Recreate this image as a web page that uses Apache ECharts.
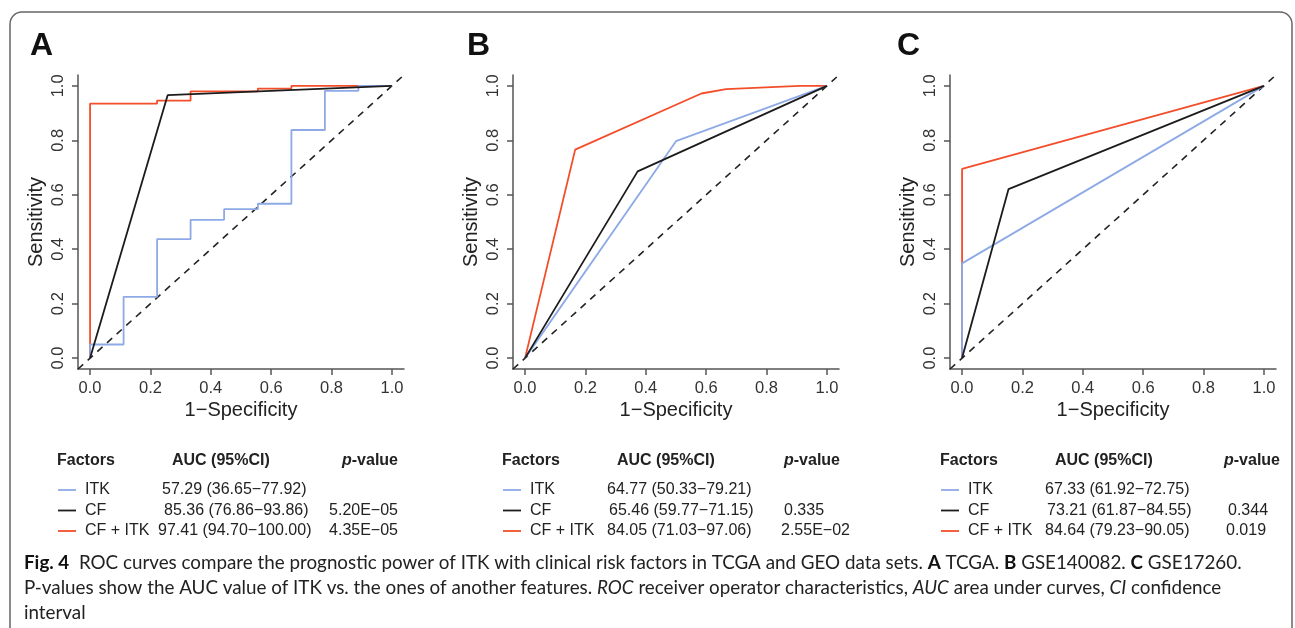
<!DOCTYPE html>
<html>
<head>
<meta charset="utf-8">
<script src="https://cdn.jsdelivr.net/npm/echarts@6/dist/echarts.min.js"></script>
<style>
  html, body { margin: 0; padding: 0; background: #fff; }
  #main { width: 1295px; height: 628px; }
</style>
</head>
<body>
<div id="main"></div>
<script>
// tick values shared by both axes of every panel
const ticks = [0, 0.2, 0.4, 0.6, 0.8, 1.0];
const letters = ['A', 'B', 'C'];
const factors = ['ITK', 'CF', 'CF + ITK'];

// ROC points [1-specificity, sensitivity]
const itkA = [[0, 0], [0, 0.05], [0.111, 0.05], [0.111, 0.225], [0.222, 0.225], [0.222, 0.437], [0.333, 0.437],
  [0.333, 0.508], [0.444, 0.508], [0.444, 0.547], [0.556, 0.547], [0.556, 0.567], [0.667, 0.567], [0.667, 0.838],
  [0.778, 0.838], [0.778, 0.982], [0.889, 0.982], [0.889, 1.0], [1, 1]];
const cfA = [[0, 0], [0.257, 0.966], [1, 1]];
const cfitkA = [[0, 0], [0, 0.935], [0.222, 0.935], [0.222, 0.946], [0.333, 0.946], [0.333, 0.98], [0.556, 0.98],
  [0.556, 0.99], [0.667, 0.99], [0.667, 1.0], [1, 1]];

const itkB = [[0, 0], [0.5, 0.797], [1, 1]];
const cfB = [[0, 0], [0.373, 0.686], [1, 1]];
const cfitkB = [[0, 0], [0.166, 0.766], [0.584, 0.972], [0.666, 0.988], [0.91, 1.0], [1, 1]];

const itkC = [[0, 0], [0, 0.348], [1, 1]];
const cfC = [[0, 0], [0.154, 0.621], [1, 1]];
const cfitkC = [[0, 0], [0, 0.695], [1, 1]];

// table texts
const aucA = ['57.29 (36.65\u221277.92)', '85.36 (76.86\u221293.86)', '97.41 (94.70\u2212100.00)'];
const pA = ['', '5.20E\u221205', '4.35E\u221205'];
const aucB = ['64.77 (50.33\u221279.21)', '65.46 (59.77\u221271.15)', '84.05 (71.03\u221297.06)'];
const pB = ['', '0.335', '2.55E\u221202'];
const aucC = ['67.33 (61.92\u221272.75)', '73.21 (61.87\u221284.55)', '84.64 (79.23\u221290.05)'];
const pC = ['', '0.344', '0.019'];

const colors = ['#8eaae6', '#1c1c1c', '#f24e2a'];
const curves = [[itkA, cfA, cfitkA], [itkB, cfB, cfitkB], [itkC, cfC, cfitkC]];
const tables = [[aucA, pA], [aucB, pB], [aucC, pC]];

const FONT = '"Liberation Sans", Arial, sans-serif';
const CAP = 'Lato, "Open Sans", sans-serif';

const gridLeft = [78, 513, 950];
const tableLeft = [0, 445, 883];
const letterX = [42, 479, 909];
// column positions of the tables
const aucX = [[162, 164, 158], [607, 609, 607], [1045, 1047, 1045]];
const pHeadX = [[398, 'right'], [784, 'left'], [1224, 'left']];
const pValX = [[null, [398, 'right'], [398, 'right']], [null, [784, 'left'], [781, 'left']],
  [null, [1228, 'left'], [1226, 'left']]];

const grids = [], xAxes = [], yAxes = [], series = [], graphics = [];

gridLeft.forEach(function (left, i) {
  grids.push({ left: left, top: 75, width: 326, height: 294 });
  const common = {
    gridIndex: i, type: 'value', min: -0.04, max: 1.04,
    axisLine: { show: true, onZero: false, lineStyle: { color: '#555', width: 1.5 } },
    axisTick: { show: true, customValues: ticks, length: 6, lineStyle: { color: '#555', width: 1.5 } },
    splitLine: { show: false },
    nameLocation: 'middle',
    nameTextStyle: { fontFamily: FONT, fontSize: 20, color: '#222' }
  };
  xAxes.push(Object.assign({}, common, {
    name: '1\u2212Specificity', nameGap: 31,
    axisLabel: { customValues: ticks, formatter: function (v) { return v.toFixed(1); },
      fontFamily: FONT, fontSize: 16.5, color: '#333', margin: 11 }
  }));
  yAxes.push(Object.assign({}, common, {
    name: 'Sensitivity', nameGap: 32,
    axisLabel: { customValues: ticks, formatter: function (v) { return v.toFixed(1); }, rotate: 90,
      fontFamily: FONT, fontSize: 16.5, color: '#333', margin: 11 }
  }));

  // chance diagonal across the whole plot region
  series.push({
    type: 'line', xAxisIndex: i, yAxisIndex: i, data: [[-0.04, -0.04], [1.04, 1.04]],
    symbol: 'none', silent: true, lineStyle: { color: '#222', width: 1.6, type: [7, 6] }
  });
  // draw order: CF + ITK, ITK, CF
  [2, 0, 1].forEach(function (k) {
    series.push({
      type: 'line', name: factors[k], xAxisIndex: i, yAxisIndex: i, data: curves[i][k],
      symbol: 'none', silent: true, lineStyle: { color: colors[k], width: 1.8 }
    });
  });

  graphics.push({
    type: 'text', left: letterX[i] - 12, top: 30,
    style: { text: letters[i], fontFamily: FONT, fontWeight: 'bold', fontSize: 32, fill: '#111' }
  });

  // table under each panel
  const dx = tableLeft[i];
  const head = { fontFamily: FONT, fontWeight: 'bold', fontSize: 16, fill: '#222', verticalAlign: 'middle' };
  graphics.push({ type: 'text', x: 57 + dx, y: 461, style: Object.assign({ text: 'Factors' }, head) });
  graphics.push({ type: 'text', x: 172 + dx, y: 461, style: Object.assign({ text: 'AUC (95%CI)' }, head) });
  graphics.push({ type: 'text', x: pHeadX[i][0], y: 461, style: Object.assign({
    text: '{i|p}-value', align: pHeadX[i][1],
    rich: { i: { fontFamily: FONT, fontWeight: 'bold', fontStyle: 'italic', fontSize: 16, fill: '#222' } }
  }, head) });
  const rowY = [490, 510.5, 531];
  factors.forEach(function (f, r) {
    graphics.push({ type: 'line', shape: { x1: 58 + dx, y1: rowY[r], x2: 76 + dx, y2: rowY[r] },
      style: { stroke: colors[r], lineWidth: 1.8 } });
    const body = { fontFamily: FONT, fontSize: 16, fill: '#222', verticalAlign: 'middle' };
    graphics.push({ type: 'text', x: 85 + dx, y: rowY[r], style: Object.assign({ text: f }, body) });
    graphics.push({ type: 'text', x: aucX[i][r], y: rowY[r], style: Object.assign({ text: tables[i][0][r] }, body) });
    if (tables[i][1][r]) {
      graphics.push({ type: 'text', x: pValX[i][r][0], y: rowY[r],
        style: Object.assign({ text: tables[i][1][r], align: pValX[i][r][1] }, body) });
    }
  });
});

// figure frame
graphics.push({ type: 'rect', z: -1, shape: { x: 10, y: 12, width: 1282, height: 660, r: 12 },
  style: { fill: 'none', stroke: '#666', lineWidth: 1.5 } });

// caption, sized so the first line spans the measured width
const cap1 = [['Fig. 4', 'b'], ['  ROC curves compare the prognostic power of ITK with clinical risk factors in TCGA and GEO data sets. ', ''],
  ['A', 'b'], [' TCGA. ', ''], ['B', 'b'], [' GSE140082. ', ''], ['C', 'b'], [' GSE17260.', '']];
const cap2 = [['P-values show the AUC value of ITK vs. the ones of another features. ', ''], ['ROC', 'i'],
  [' receiver operator characteristics, ', ''], ['AUC', 'i'], [' area under curves, ', ''], ['CI', 'i'], [' confidence', '']];
const cap3 = [['interval', '']];

function measure(parts) {
  const ctx = document.createElement('canvas').getContext('2d');
  let w = 0;
  parts.forEach(function (p) {
    ctx.font = (p[1] === 'b' ? 'bold ' : '') + (p[1] === 'i' ? 'italic ' : '') + '100px ' + CAP;
    w += ctx.measureText(p[0]).width;
  });
  return w / 100;
}
const capSize = Math.min(1219 / measure(cap1), 1211 / measure(cap2));
function richText(parts) {
  return parts.map(function (p) { return p[1] ? '{' + p[1] + '|' + p[0] + '}' : p[0]; }).join('');
}
const capRich = {
  b: { fontFamily: CAP, fontWeight: 'bold', fontSize: capSize, fill: '#111' },
  i: { fontFamily: CAP, fontStyle: 'italic', fontSize: capSize, fill: '#222' }
};
[cap1, cap2, cap3].forEach(function (parts, k) {
  graphics.push({ type: 'text', x: 24, y: 563 + k * 25,
    style: { text: richText(parts), rich: capRich, fontFamily: CAP, fontSize: capSize, fill: '#222', verticalAlign: 'middle' } });
});

const chart = echarts.init(document.getElementById('main'));
chart.setOption({
  animation: false,
  backgroundColor: '#fff',
  grid: grids,
  xAxis: xAxes,
  yAxis: yAxes,
  series: series,
  graphic: graphics
});
</script>
</body>
</html>
